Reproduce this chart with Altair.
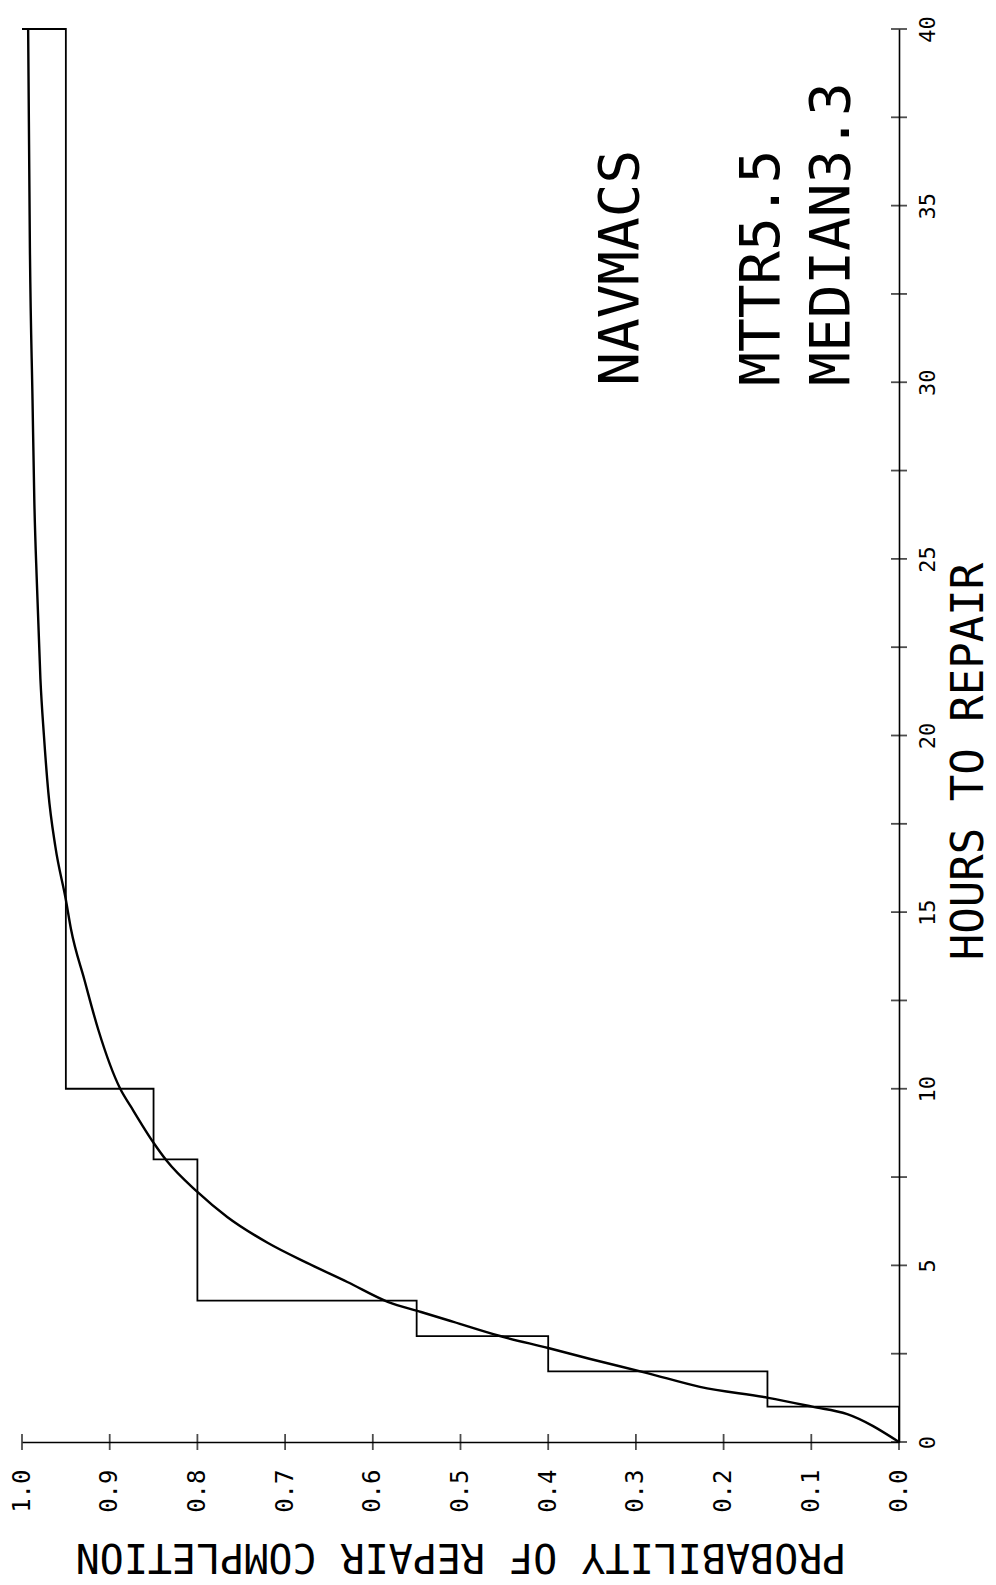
import altair as alt
import pandas as pd

# Empirical (step) cumulative distribution: hours to repair vs probability
step_hours = [0, 1, 1, 2, 2, 3, 3, 4, 4, 8, 8, 10, 10, 40, 40]
step_prob = [0.0, 0.0, 0.15, 0.15, 0.40, 0.40, 0.55, 0.55, 0.80, 0.80, 0.85, 0.85, 0.95, 0.95, 1.0]

# Fitted smooth curve
curve_hours = [0, 0.79, 1.0, 1.25, 1.56, 1.95, 2.35, 2.66, 3.0, 3.4, 3.68, 3.97, 4.53,
               5.07, 5.64, 6.37, 7.08, 7.96, 8.47, 9.5, 10.0, 11.67, 13.1, 14.5, 15.35,
               16.86, 18.4, 20.0, 21.6, 24.3, 26.7, 29.5, 33.8, 40.0]
curve_prob = [0.0, 0.059, 0.099, 0.149, 0.227, 0.287, 0.352, 0.40, 0.455, 0.508, 0.545,
              0.583, 0.629, 0.675, 0.720, 0.766, 0.800, 0.835, 0.850, 0.876, 0.888, 0.913,
              0.929, 0.944, 0.950, 0.962, 0.970, 0.975, 0.979, 0.983, 0.986, 0.988, 0.991, 0.993]

# Axis ticks / labels
hour_ticks = [0, 2.5, 5, 7.5, 10, 12.5, 15, 17.5, 20, 22.5, 25, 27.5, 30, 32.5, 35, 37.5, 40]
hour_labels = [0, 5, 10, 15, 20, 25, 30, 35, 40]
prob_ticks = [0.0, 0.1, 0.2, 0.3, 0.4, 0.5, 0.6, 0.7, 0.8, 0.9, 1.0]

# Annotations
note_text = ["NAVMACS", "MTTR5.5", "MEDIAN3.3"]
note_prob = [0.317, 0.156, 0.076]
note_hours = [29.9, 29.9, 29.9]

FONT = "DejaVu Sans Mono"

step_df = pd.DataFrame({"i": range(len(step_hours)), "hours": step_hours, "prob": step_prob})
curve_df = pd.DataFrame({"i": range(len(curve_hours)), "hours": curve_hours, "prob": curve_prob})
htick_df = pd.DataFrame({"hours": hour_ticks, "prob": [0.0] * len(hour_ticks)})
ptick_df = pd.DataFrame({"prob": prob_ticks, "hours": [0.0] * len(prob_ticks)})
note_df = pd.DataFrame({"text": note_text, "prob": note_prob, "hours": note_hours})

W, H = 877, 1413

xscale = alt.Scale(domain=[0, 1], reverse=True, nice=False, zero=False)
yscale = alt.Scale(domain=[0, 40], nice=False, zero=False)

xaxis = alt.Axis(
    title="PROBABILITY OF REPAIR COMPLETION",
    values=prob_ticks, format=".1f", labelAngle=270, labelAlign="right",
    labelBaseline="middle", labelPadding=27, labelFont=FONT, labelFontSize=24,
    labelColor="black", ticks=False, grid=False, domainColor="black", domainWidth=1.6,
    titleFont=FONT, titleFontSize=40, titleFontWeight="normal", titleColor="black",
    titleAngle=180, titleBaseline="middle", titleAlign="center", titleY=113,
    labelOverlap=False,
)
yaxis = alt.Axis(
    title="HOURS TO REPAIR", orient="right",
    values=hour_labels, format="d", labelAngle=270, labelAlign="center",
    labelBaseline="top", labelPadding=18, labelFont=FONT, labelFontSize=22,
    labelColor="black", ticks=False, grid=False, domainColor="black", domainWidth=1.6,
    titleFont=FONT, titleFontSize=44, titleFontWeight="normal", titleColor="black",
    titleAngle=270, titleBaseline="middle", titleAlign="center", titleX=70, titleY=732,
    labelOverlap=False,
)

base_x = alt.X("prob:Q", scale=xscale, axis=xaxis)
base_y = alt.Y("hours:Q", scale=yscale, axis=yaxis)

step = alt.Chart(step_df).mark_line(color="black", strokeWidth=1.8, interpolate="linear").encode(
    x=base_x, y=base_y, order=alt.Order("i:Q"))

curve = alt.Chart(curve_df).mark_line(color="black", strokeWidth=2.4, interpolate="monotone").encode(
    x=alt.X("prob:Q", scale=xscale), y=alt.Y("hours:Q", scale=yscale), order=alt.Order("i:Q"))

hticks = alt.Chart(htick_df).mark_tick(orient="horizontal", color="black", size=16, thickness=1.8).encode(
    x=alt.X("prob:Q", scale=xscale), y=alt.Y("hours:Q", scale=yscale))

pticks = alt.Chart(ptick_df).mark_tick(orient="vertical", color="black", size=16, thickness=1.8).encode(
    x=alt.X("prob:Q", scale=xscale), y=alt.Y("hours:Q", scale=yscale))

notes = alt.Chart(note_df).mark_text(
    angle=270, align="left", baseline="middle", font=FONT, fontSize=56, color="black"
).encode(x=alt.X("prob:Q", scale=xscale), y=alt.Y("hours:Q", scale=yscale), text="text:N")

chart = alt.layer(step, curve, hticks, pticks, notes).properties(
    width=W, height=H,
    autosize=alt.AutoSizeParams(type="none"),
    padding={"left": 22, "top": 29, "right": 97, "bottom": 143},
    background="white",
).configure_view(stroke=None)

chart.save("out.html", embed_options={"renderer": "svg", "actions": False})
